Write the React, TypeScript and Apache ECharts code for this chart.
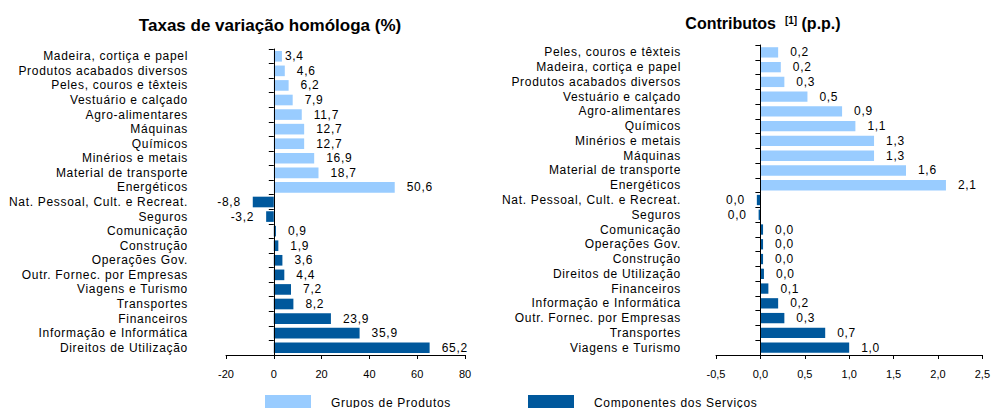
import { useEffect, useRef } from "react";
import * as echarts from "echarts";

const LIGHT = "#99CCFF";
const DARK = "#00589C";
const FONT = "Arial, 'Liberation Sans', sans-serif";

const SERIES_PRODUCTS = "Grupos de Produtos";
const SERIES_SERVICES = "Componentes dos Serviços";

// Taxas de variação homóloga (%)
const growthProductLabels = [
  "Madeira, cortiça e papel",
  "Produtos acabados diversos",
  "Peles, couros e têxteis",
  "Vestuário e calçado",
  "Agro-alimentares",
  "Máquinas",
  "Químicos",
  "Minérios e metais",
  "Material de transporte",
  "Energéticos",
];
const growthProductValues = [3.4, 4.6, 6.2, 7.9, 11.7, 12.7, 12.7, 16.9, 18.7, 50.6];
const growthServiceLabels = [
  "Nat. Pessoal, Cult. e Recreat.",
  "Seguros",
  "Comunicação",
  "Construção",
  "Operações Gov.",
  "Outr. Fornec. por Empresas",
  "Viagens e Turismo",
  "Transportes",
  "Financeiros",
  "Informação e Informática",
  "Direitos de Utilização",
];
const growthServiceValues = [-8.8, -3.2, 0.9, 1.9, 3.6, 4.4, 7.2, 8.2, 23.9, 35.9, 65.2];
const growthTicks = [-20, 0, 20, 40, 60, 80];

// Contributos (p.p.)
const contribProductLabels = [
  "Peles, couros e têxteis",
  "Madeira, cortiça e papel",
  "Produtos acabados diversos",
  "Vestuário e calçado",
  "Agro-alimentares",
  "Químicos",
  "Minérios e metais",
  "Máquinas",
  "Material de transporte",
  "Energéticos",
];
const contribProductValues = [0.2, 0.23, 0.27, 0.53, 0.92, 1.07, 1.28, 1.28, 1.64, 2.09];
const contribServiceLabels = [
  "Nat. Pessoal, Cult. e Recreat.",
  "Seguros",
  "Comunicação",
  "Operações Gov.",
  "Construção",
  "Direitos de Utilização",
  "Financeiros",
  "Informação e Informática",
  "Outr. Fornec. por Empresas",
  "Transportes",
  "Viagens e Turismo",
];
const contribServiceValues = [-0.04, -0.02, 0.03, 0.03, 0.03, 0.04, 0.09, 0.2, 0.27, 0.73, 1.0];
const contribTicks = [-0.5, 0, 0.5, 1, 1.5, 2, 2.5];

// Portuguese number formatting (decimal comma, no "-0,0")
const fmt = (v: number, d: number) => {
  const p = Math.pow(10, d);
  return (Math.round(v * p) / p + 0).toFixed(d).replace(".", ",");
};

type Panel = {
  productLabels: string[];
  productValues: number[];
  serviceLabels: string[];
  serviceValues: number[];
  ticks: number[];
  tickDecimals: number;
  labelMargin: number;
  gap: string;
  nearLabels: string[];
};

const buildPanel = (gi: number, p: Panel) => {
  const categories = [...p.productLabels, ...p.serviceLabels];
  const none = (n: number) => Array(n).fill(null);
  const item = (label: string, v: number) =>
    p.nearLabels.includes(label) ? { value: v, label: { distance: 3 } } : v;

  const valueLabel = {
    show: true,
    position: "outside",
    distance: 12,
    fontSize: 12,
    fontFamily: FONT,
    color: "#000",
    formatter: (q: any) => fmt(q.value, 1),
  };

  const xAxis = {
    gridIndex: gi,
    type: "value",
    min: p.ticks[0],
    max: p.ticks[p.ticks.length - 1],
    interval: p.ticks[1] - p.ticks[0],
    axisLine: { show: true, onZero: false, lineStyle: { color: "#000", width: 1 } },
    axisTick: { show: true, length: 4, lineStyle: { color: "#000" } },
    axisLabel: {
      fontSize: 11,
      fontFamily: FONT,
      color: "#000",
      margin: 13,
      formatter: (v: number) => fmt(v, p.tickDecimals),
    },
    splitLine: { show: false },
  };

  const labelAxis = {
    gridIndex: gi,
    type: "category",
    data: categories,
    inverse: true,
    position: "left",
    axisLine: { show: false, onZero: false },
    axisTick: { show: false },
    axisLabel: {
      interval: 0,
      fontSize: 12,
      fontFamily: FONT,
      color: "#000",
      margin: p.labelMargin,
    },
  };

  const lineAxis = {
    gridIndex: gi,
    type: "category",
    data: categories,
    inverse: true,
    position: "left",
    z: 5,
    axisLine: { show: true, onZero: true, lineStyle: { color: "#000", width: 1 } },
    axisTick: { show: true, interval: 0, length: 5, lineStyle: { color: "#000" } },
    axisLabel: { show: false, interval: 0 },
  };

  const series = [
    {
      type: "bar",
      name: SERIES_PRODUCTS,
      xAxisIndex: gi,
      yAxisIndex: gi * 2,
      stack: `panel${gi}`,
      barCategoryGap: p.gap,
      itemStyle: { color: LIGHT },
      label: valueLabel,
      data: [
        ...p.productValues.map((v, i) => item(p.productLabels[i], v)),
        ...none(p.serviceLabels.length),
      ],
    },
    {
      type: "bar",
      name: SERIES_SERVICES,
      xAxisIndex: gi,
      yAxisIndex: gi * 2,
      stack: `panel${gi}`,
      barCategoryGap: p.gap,
      itemStyle: { color: DARK },
      label: valueLabel,
      data: [
        ...none(p.productLabels.length),
        ...p.serviceValues.map((v, i) => item(p.serviceLabels[i], v)),
      ],
    },
  ];

  return { xAxis, yAxes: [labelAxis, lineAxis], series };
};

export default function App() {
  const ref = useRef<HTMLDivElement>(null);

  useEffect(() => {
    if (!ref.current) return;
    const chart = echarts.init(ref.current, undefined, { renderer: "svg" });

    const left = buildPanel(0, {
      productLabels: growthProductLabels,
      productValues: growthProductValues,
      serviceLabels: growthServiceLabels,
      serviceValues: growthServiceValues,
      ticks: growthTicks,
      tickDecimals: 0,
      labelMargin: 38,
      gap: "27%",
      nearLabels: ["Madeira, cortiça e papel"],
    });
    const right = buildPanel(1, {
      productLabels: contribProductLabels,
      productValues: contribProductValues,
      serviceLabels: contribServiceLabels,
      serviceValues: contribServiceValues,
      ticks: contribTicks,
      tickDecimals: 1,
      labelMargin: 35,
      gap: "30%",
      nearLabels: [],
    });

    const legendBase = {
      orient: "horizontal",
      top: 395,
      padding: 0,
      icon: "rect",
      itemWidth: 46,
      itemHeight: 15,
      selectedMode: false,
      textStyle: { fontSize: 12, fontFamily: FONT, color: "#000", padding: [0, 0, 0, 15] },
    };

    chart.setOption({
      animation: false,
      backgroundColor: "#fff",
      grid: [
        { left: 226, right: 528, top: 49, bottom: 53 },
        { left: 716, right: 7, top: 45, bottom: 53 },
      ],
      xAxis: [left.xAxis, right.xAxis],
      yAxis: [...left.yAxes, ...right.yAxes],
      series: [...left.series, ...right.series],
      legend: [
        { ...legendBase, left: 265, data: [SERIES_PRODUCTS] },
        { ...legendBase, left: 528, data: [SERIES_SERVICES] },
      ],
      graphic: [
        {
          type: "text",
          x: 270,
          y: 25,
          style: {
            text: "Taxas de variação homóloga (%)",
            fontSize: 17,
            fontWeight: "bold",
            fontFamily: FONT,
            fill: "#000",
            align: "center",
            verticalAlign: "middle",
          },
        },
        {
          type: "text",
          x: 763,
          y: 23,
          style: {
            text: "Contributos  {s|[1]} (p.p.)",
            fontSize: 16,
            fontWeight: "bold",
            fontFamily: FONT,
            fill: "#000",
            align: "center",
            verticalAlign: "middle",
            rich: {
              s: { fontSize: 10, fontWeight: "bold", fontFamily: FONT, fill: "#000", verticalAlign: "top" },
            },
          },
        },
      ],
    });

    return () => chart.dispose();
  }, []);

  return (
    <>
      <style>{`.tv-chart text[style*="12px"]{letter-spacing:0.7px}`}</style>
      <div
        ref={ref}
        className="tv-chart"
        style={{ position: "fixed", left: 0, top: 0, width: 993, height: 408 }}
      />
    </>
  );
}
